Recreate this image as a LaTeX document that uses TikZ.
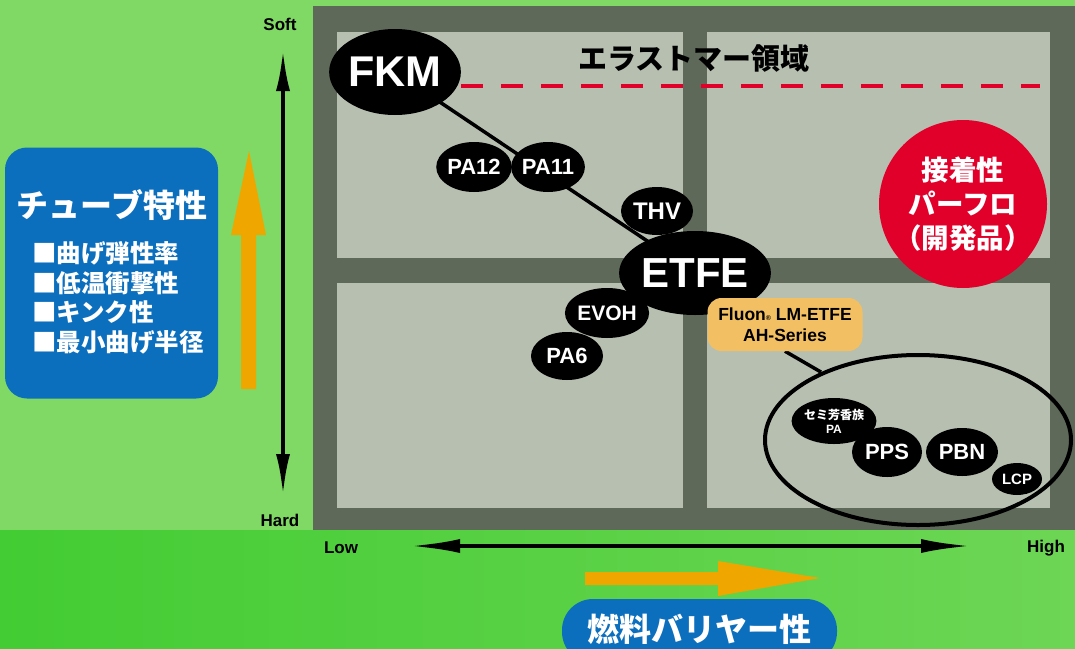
\documentclass[tikz,border=0pt]{standalone}
\usepackage{fontspec}
\setmainfont{Liberation Sans}
\newfontfamily\jp{Noto Sans CJK JP}
\usetikzlibrary{shapes.geometric,arrows.meta}
\definecolor{bgtop}{HTML}{80D964}
\definecolor{bgbotl}{HTML}{43CC33}
\definecolor{bgbotr}{HTML}{6DD655}
\definecolor{framec}{HTML}{5E6959}
\definecolor{panec}{HTML}{B7BFB1}
\definecolor{tubeblue}{HTML}{0B6FBE}
\definecolor{adhred}{HTML}{E1002A}
\definecolor{arroworange}{HTML}{EFA700}
\definecolor{fluonor}{HTML}{F2C063}
\newcommand\fsz[2]{\fontsize{#1}{#2}\selectfont}
\pgfdeclarelayer{bg}\pgfdeclarelayer{lines}\pgfsetlayers{bg,lines,main}
\begin{document}
\begin{tikzpicture}[x=1pt,y=-1pt,
  blob/.style={ellipse, fill=black, text=white, inner sep=0pt, font=\bfseries},
  axislabel/.style={font=\bfseries\fsz{17}{20}, text=black, inner sep=0pt},
  axisline/.style={line width=4pt, black},
  tubeitem/.style={anchor=west, text=white, font=\jp\bfseries\fsz{24.5}{28}, inner sep=0pt},
  conn/.style={line width=3.5pt, black}]
\useasboundingbox (0,0) rectangle (1075,648);
\begin{pgfonlayer}{bg}
  \fill[bgtop] (0,0) rectangle (1075,532);
  \shade[left color=bgbotl, right color=bgbotr] (0,530) rectangle (1075,648);
  \fill[framec] (313,6) rectangle (1075,530);
  \fill[panec] (337,32) rectangle (683,258);
  \fill[panec] (707,32) rectangle (1050,258);
  \fill[panec] (337,283) rectangle (683,508);
  \fill[panec] (707,283) rectangle (1050,508);
  % orange arrows
  \fill[arroworange] (241,389) -- (241,235) -- (231,235) -- (249,151) -- (266,235) -- (256,235) -- (256,389) -- cycle;
  \fill[arroworange] (585,572) -- (718,572) -- (718,561) -- (820,578) -- (718,596) -- (718,585) -- (585,585) -- cycle;
\end{pgfonlayer}

% axes
\node[axislabel] (soft) at (280,24) {Soft};
\node[axislabel] (hard) at (280,520) {Hard};
\node[axislabel] (low) at (341,548) {Low};
\node[axislabel] (high) at (1046,548) {High};
\coordinate (vt) at (283,50);
\coordinate (vb) at (283,495);
\draw[axisline, {Latex[length=41pt,width=14pt]}-{Latex[length=41pt,width=14pt]}] (vb) -- (vt);
\coordinate (hl) at (410,546);
\coordinate (hr) at (971,546);
\draw[axisline, {Latex[length=50pt,width=14pt]}-{Latex[length=50pt,width=14pt]}] (hl) -- (hr);

% left tube box
\node[fill=tubeblue, rounded corners=22pt, minimum width=213pt, minimum height=251pt, inner sep=0pt] (tube) at (111.5,273) {};
\node[text=white, font=\jp\bfseries\fsz{32}{36}, inner sep=0pt] (tubetitle) at (112,205) {チューブ特性};
\node[tubeitem] (t1) at (32,253) {■曲げ弾性率};
\node[tubeitem] (t2) at (32,283) {■低温衝撃性};
\node[tubeitem] (t3) at (32,312) {■キンク性};
\node[tubeitem] (t4) at (32,342) {■最小曲げ半径};

% bottom pill
\node[fill=tubeblue, rounded corners=31pt, minimum width=275pt, minimum height=64pt, inner sep=0pt, text=white, font=\jp\bfseries\fsz{32}{36}] (fuel) at (699.5,631) {\raisebox{6pt}{燃料バリヤー性}};

% red adhesion circle
\node[circle, fill=adhred, minimum size=168pt, inner sep=0pt, text=white, align=center, font=\jp\bfseries\fsz{27.5}{34}] (adh) at (963,204) {接着性\\パーフロ\\（開発品）};

% elastomer region
\node[font=\jp\bfseries\fsz{29}{32}, inner sep=0pt] (elast) at (694,59) {エラストマー領域};

% material nodes
\node[blob, minimum width=126pt, minimum height=86pt, font=\bfseries\fsz{43}{46}] (fkm) at (395,72) {FKM};
\node[blob, minimum width=146pt, minimum height=84pt, font=\bfseries\fsz{42}{46}] (etfe) at (695,273) {ETFE};
\node[blob, minimum width=72pt, minimum height=50pt, font=\bfseries\fsz{22}{24}] (pa12) at (474,167) {PA12};
\node[blob, minimum width=70pt, minimum height=50pt, font=\bfseries\fsz{22}{24}] (pa11) at (548,167) {PA11};
\node[blob, minimum width=72pt, minimum height=48pt, font=\bfseries\fsz{24}{26}] (thv) at (657,211) {THV};
\node[blob, minimum width=70pt, minimum height=50pt, font=\bfseries\fsz{21}{24}] (evoh) at (607,313) {EVOH};
\node[blob, minimum width=72pt, minimum height=48pt, font=\bfseries\fsz{22}{24}] (pa6) at (567,356) {PA6};

\node[fill=fluonor, rounded corners=14pt, minimum width=155pt, minimum height=53pt, inner sep=0pt, align=center, font=\bfseries\fsz{17.5}{21}] (fluon) at (785,324.5) {Fluon{\fsz{7}{7}®} LM-ETFE\\AH-Series};

\node[ellipse, draw=black, line width=4pt, minimum width=306pt, minimum height=170pt, inner sep=0pt] (grp) at (918,440) {};
\node[blob, minimum width=72pt, minimum height=46pt, align=center, font=\bfseries\fsz{12}{14}] (semi) at (834,421) {{\jp セミ芳香族}\\PA};
\node[blob, minimum width=70pt, minimum height=50pt, font=\bfseries\fsz{22}{24}] (pps) at (887,452) {PPS};
\node[blob, minimum width=72pt, minimum height=48pt, font=\bfseries\fsz{22}{24}] (pbn) at (962,452) {PBN};
\node[blob, minimum width=50pt, minimum height=32pt, font=\bfseries\fsz{15}{17}] (lcp) at (1017,479) {LCP};

\begin{pgfonlayer}{lines}
  \draw[conn] (fkm.center) -- (etfe.center);
  \draw[conn] (fluon.south) -- (grp.145);
  \coordinate (dend) at (1040,86);
  \draw[adhred, line width=4pt, dash pattern=on 22pt off 18pt] (fkm.east |- dend) -- (dend);
\end{pgfonlayer}
\end{tikzpicture}
\end{document}
